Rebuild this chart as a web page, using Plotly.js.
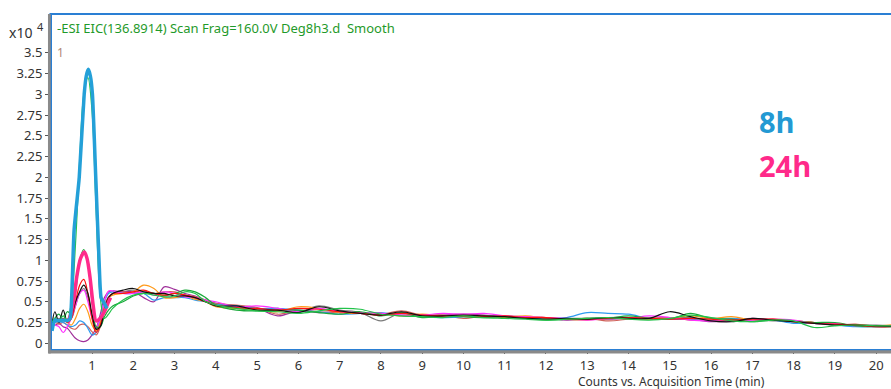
<!DOCTYPE html>
<html>
<head>
<meta charset="utf-8">
<script src="https://cdn.plot.ly/plotly-3.0.1.min.js"></script>
<style>
  html, body { margin: 0; padding: 0; background: #ffffff; }
  #chart { width: 891px; height: 389px; }
</style>
</head>
<body>
<div id="chart"></div>
<script>
// ---- Data (counts in units of x10^4) ----
const time = [0.03,0.1,0.2,0.3,0.4,0.5,0.6,0.7,0.8,0.9,1.0,1.1,1.2,1.3,1.4,1.5,
  1.75,2,
  2.25,2.5,2.75,3,3.25,3.5,3.75,4,
  4.5,5,5.5,6,6.5,7,7.5,8,8.5,9,9.5,10,10.5,11,11.5,12,12.5,13,13.5,14,14.5,15,15.5,16,16.5,17,17.5,18,18.5,19,19.5,20,20.5];

const greenA = [0.25,0.3,0.27,0.33,0.28,0.5,1.2,2.2,3.0,3.2,2.8,1.6,0.55,0.3,0.35,0.42,
  0.52,0.58,
  0.6,0.58,0.56,0.57,0.62,0.6,0.5,0.46,
  0.42,0.39,0.38,0.36,0.39,0.42,0.41,0.35,0.33,0.32,0.31,0.33,0.31,0.3,0.29,0.28,0.29,0.3,0.31,0.29,0.28,0.3,0.34,0.31,0.27,0.26,0.28,0.27,0.19,0.21,0.22,0.21,0.21];

const greenB = [0.2,0.3,0.35,0.28,0.38,0.35,0.6,1.0,1.13,0.95,0.5,0.2,0.2,0.32,0.4,0.45,
  0.5,0.57,
  0.6,0.6,0.58,0.6,0.64,0.62,0.55,0.46,
  0.4,0.39,0.4,0.4,0.37,0.35,0.38,0.33,0.37,0.31,0.33,0.32,0.31,0.32,0.3,0.28,0.29,0.3,0.3,0.33,0.3,0.29,0.36,0.3,0.29,0.26,0.28,0.26,0.25,0.25,0.21,0.2,0.2];

const red = [0.2,0.28,0.25,0.3,0.25,0.3,0.5,0.7,0.77,0.6,0.3,0.13,0.22,0.42,0.55,0.6,
  0.6,0.62,
  0.64,0.6,0.58,0.6,0.58,0.55,0.5,0.46,
  0.43,0.42,0.4,0.42,0.41,0.38,0.36,0.34,0.36,0.34,0.33,0.33,0.32,0.33,0.31,0.31,0.29,0.29,0.3,0.31,0.3,0.29,0.3,0.29,0.28,0.29,0.29,0.26,0.24,0.23,0.22,0.2,0.2];

const black = [0.22,0.38,0.25,0.4,0.26,0.35,0.5,0.62,0.7,0.6,0.35,0.17,0.2,0.4,0.55,0.6,
  0.64,0.66,
  0.62,0.6,0.6,0.57,0.57,0.55,0.5,0.45,
  0.45,0.4,0.4,0.37,0.44,0.39,0.36,0.34,0.38,0.33,0.33,0.34,0.33,0.32,0.3,0.29,0.3,0.29,0.31,0.3,0.3,0.38,0.32,0.27,0.26,0.3,0.28,0.26,0.24,0.22,0.22,0.21,0.2];

const magenta = [0.25,0.22,0.2,0.13,0.2,0.3,0.45,0.6,0.64,0.5,0.3,0.2,0.3,0.5,0.63,0.63,
  0.6,0.6,
  0.62,0.58,0.62,0.6,0.56,0.55,0.52,0.5,
  0.44,0.45,0.42,0.38,0.42,0.38,0.37,0.36,0.34,0.34,0.36,0.35,0.36,0.33,0.32,0.31,0.3,0.28,0.3,0.3,0.33,0.31,0.28,0.27,0.27,0.28,0.29,0.28,0.24,0.24,0.21,0.2,0.21];

const orange = [0.22,0.3,0.26,0.28,0.25,0.22,0.3,0.42,0.47,0.38,0.22,0.15,0.25,0.45,0.55,0.58,
  0.6,0.62,
  0.7,0.66,0.55,0.55,0.57,0.53,0.5,0.44,
  0.42,0.4,0.38,0.44,0.42,0.37,0.36,0.36,0.33,0.35,0.33,0.34,0.33,0.31,0.33,0.3,0.29,0.28,0.3,0.3,0.29,0.3,0.33,0.3,0.32,0.28,0.29,0.27,0.25,0.23,0.22,0.21,0.23];

const skyBlue = [0.15,0.25,0.26,0.25,0.22,0.2,0.22,0.27,0.25,0.18,0.1,0.13,0.3,0.5,0.6,0.62,
  0.6,0.6,
  0.6,0.52,0.55,0.55,0.55,0.52,0.5,0.47,
  0.45,0.42,0.42,0.4,0.38,0.35,0.36,0.37,0.33,0.32,0.31,0.32,0.33,0.32,0.3,0.3,0.31,0.37,0.36,0.35,0.3,0.29,0.29,0.3,0.3,0.28,0.28,0.24,0.24,0.22,0.2,0.2,0.2];

const brownRed = [0.2,0.25,0.23,0.25,0.22,0.18,0.17,0.22,0.23,0.2,0.14,0.1,0.2,0.4,0.55,0.6,
  0.62,0.6,
  0.63,0.6,0.62,0.62,0.58,0.56,0.52,0.48,
  0.46,0.43,0.35,0.4,0.38,0.37,0.36,0.35,0.39,0.34,0.34,0.3,0.33,0.33,0.32,0.31,0.29,0.3,0.27,0.29,0.3,0.31,0.28,0.28,0.29,0.29,0.28,0.27,0.25,0.22,0.23,0.2,0.21];

const purple = [0.25,0.22,0.24,0.2,0.18,0.12,0.06,0.03,0.02,0.04,0.1,0.18,0.35,0.55,0.62,0.63,
  0.62,0.62,
  0.55,0.5,0.68,0.65,0.6,0.57,0.52,0.48,
  0.44,0.42,0.33,0.39,0.37,0.38,0.36,0.35,0.34,0.34,0.34,0.35,0.34,0.31,0.31,0.3,0.28,0.29,0.29,0.3,0.3,0.3,0.29,0.26,0.27,0.3,0.28,0.26,0.25,0.22,0.22,0.21,0.2];

const gray = [0.24,0.27,0.3,0.27,0.28,0.3,0.45,0.6,0.66,0.55,0.33,0.18,0.25,0.45,0.56,0.6,
  0.62,0.64,
  0.6,0.6,0.57,0.6,0.58,0.54,0.5,0.47,
  0.42,0.41,0.42,0.38,0.45,0.4,0.37,0.27,0.37,0.33,0.33,0.34,0.32,0.32,0.31,0.3,0.3,0.3,0.31,0.31,0.29,0.3,0.31,0.27,0.28,0.28,0.27,0.27,0.25,0.23,0.22,0.22,0.21];

// Highlighted runs (thick)
const time8h = [0.03,0.1,0.2,0.3,0.4,0.47,0.51,0.565,0.69,0.81,0.86,0.91,0.96,1.01,1.09,1.17,1.22,1.3,1.36];
const counts8h = [0.15,0.28,0.27,0.28,0.27,0.3,0.6,1.36,2.0,3.0,3.22,3.3,3.22,3.0,2.0,1.0,0.55,0.48,0.42];

const time24h = [0.42,0.45,0.55,0.63,0.72,0.815,0.88,0.95,1.03,1.1,1.2,1.3,1.4,1.45];
const counts24h = [0.28,0.3,0.5,0.8,1.02,1.1,1.02,0.8,0.45,0.27,0.3,0.38,0.5,0.55];

const xTicks = [1,2,3,4,5,6,7,8,9,10,11,12,13,14,15,16,17,18,19,20];
const yTicks = [0,0.25,0.5,0.75,1,1.25,1.5,1.75,2,2.25,2.5,2.75,3,3.25,3.5];

// ---- Traces ----
const thin = [
  {y: gray, color: '#7a7a7a'},
  {y: purple, color: '#a0309a'},
  {y: brownRed, color: '#d0605a'},
  {y: skyBlue, color: '#2f9bf0'},
  {y: orange, color: '#ff9a1a'},
  {y: magenta, color: '#ff30ff'},
  {y: greenB, color: '#1aa83a'},
  {y: red, color: '#ff1010'},
  {y: black, color: '#111111'},
  {y: greenA, color: '#22c24a'}
];
const traces = thin.map(s => ({
  x: time, y: s.y, type: 'scatter', mode: 'lines',
  line: {color: s.color, width: 1.2, shape: 'spline', smoothing: 1},
  hoverinfo: 'skip', showlegend: false
}));
traces.push({
  x: time24h, y: counts24h, type: 'scatter', mode: 'lines',
  line: {color: '#ff2a8a', width: 3.5, shape: 'spline', smoothing: 0.8},
  showlegend: false
});
traces.push({
  x: time8h, y: counts8h, type: 'scatter', mode: 'lines',
  line: {color: '#24a0d8', width: 3.5, shape: 'spline', smoothing: 0.5},
  showlegend: false
});

const FONT = 'Noto Sans, Liberation Sans, Arial, sans-serif';

const layout = {
  width: 891, height: 389,
  margin: {l: 52, r: 0, t: 14, b: 40},
  paper_bgcolor: '#ffffff', plot_bgcolor: '#ffffff',
  font: {family: FONT, size: 13, color: '#333333'},
  xaxis: {
    range: [0.03, 20.36],
    tickvals: xTicks, ticktext: xTicks.map(String),
    ticks: 'outside', ticklen: 3, tickwidth: 1, tickcolor: '#555555',
    showgrid: false, zeroline: false,
    showline: true, linecolor: '#2a7fd4', linewidth: 2, mirror: false,
    tickfont: {family: FONT, size: 13, color: '#333333'}
  },
  yaxis: {
    range: [-0.069, 3.967],
    tickvals: yTicks,
    ticks: 'outside', ticklen: 5, tickwidth: 1, tickcolor: '#555555',
    showgrid: false, zeroline: false,
    showline: true, linecolor: '#2a7fd4', linewidth: 2,
    tickfont: {family: FONT, size: 13, color: '#333333'}
  },
  shapes: [
    {type: 'line', xref: 'paper', yref: 'paper', x0: -0.003, x1: 1, y0: 1, y1: 1,
     line: {color: '#2a7fd4', width: 2}},
    {type: 'rect', xref: 'paper', yref: 'paper', x0: -0.004, x1: 1, y0: -0.0135, y1: -0.004,
     fillcolor: '#8a8a8a', line: {width: 0}, layer: 'above'},
    {type: 'rect', xref: 'paper', yref: 'paper', x0: -0.0048, x1: -0.0015, y0: -0.0135, y1: 1,
     fillcolor: '#8a8a8a', line: {width: 0}, layer: 'above'}
  ],
  annotations: [
    {xref: 'paper', yref: 'paper', x: 0.0036, y: 0.958, xanchor: 'left', yanchor: 'middle',
     text: '-ESI EIC(136.8914) Scan Frag=160.0V Deg8h3.d \u00a0Smooth', showarrow: false,
     font: {family: FONT, size: 13, color: '#1f9a2a'}},
    {xref: 'paper', yref: 'paper', x: 0.0036, y: 0.885, xanchor: 'left', yanchor: 'middle',
     text: '1', showarrow: false, font: {family: FONT, size: 12, color: '#b08878'}},
    {xref: 'paper', yref: 'paper', x: -0.054, y: 0.946, xanchor: 'left', yanchor: 'middle',
     text: 'x10', showarrow: false, font: {family: FONT, size: 14, color: '#333333'}},
    {xref: 'paper', yref: 'paper', x: -0.0205, y: 0.962, xanchor: 'left', yanchor: 'middle',
     text: '4', showarrow: false, font: {family: FONT, size: 11, color: '#333333'}},
    {xref: 'paper', yref: 'paper', x: 0.7385, y: -0.098, xanchor: 'center', yanchor: 'middle',
     text: 'Counts vs. Acquisition Time (min)', showarrow: false,
     font: {family: FONT, size: 12, color: '#333333'}},
    {xref: 'paper', yref: 'paper', x: 0.8405, y: 0.678, xanchor: 'left', yanchor: 'middle',
     text: '<b>8h</b>', showarrow: false, font: {family: 'Open Sans, Noto Sans, sans-serif', size: 29, color: '#2399d3'}},
    {xref: 'paper', yref: 'paper', x: 0.8405, y: 0.549, xanchor: 'left', yanchor: 'middle',
     text: '<b>24h</b>', showarrow: false, font: {family: 'Open Sans, Noto Sans, sans-serif', size: 29, color: '#ff2a8a'}}
  ]
};

Plotly.newPlot('chart', traces, layout, {staticPlot: true, displayModeBar: false});
</script>
</body>
</html>
